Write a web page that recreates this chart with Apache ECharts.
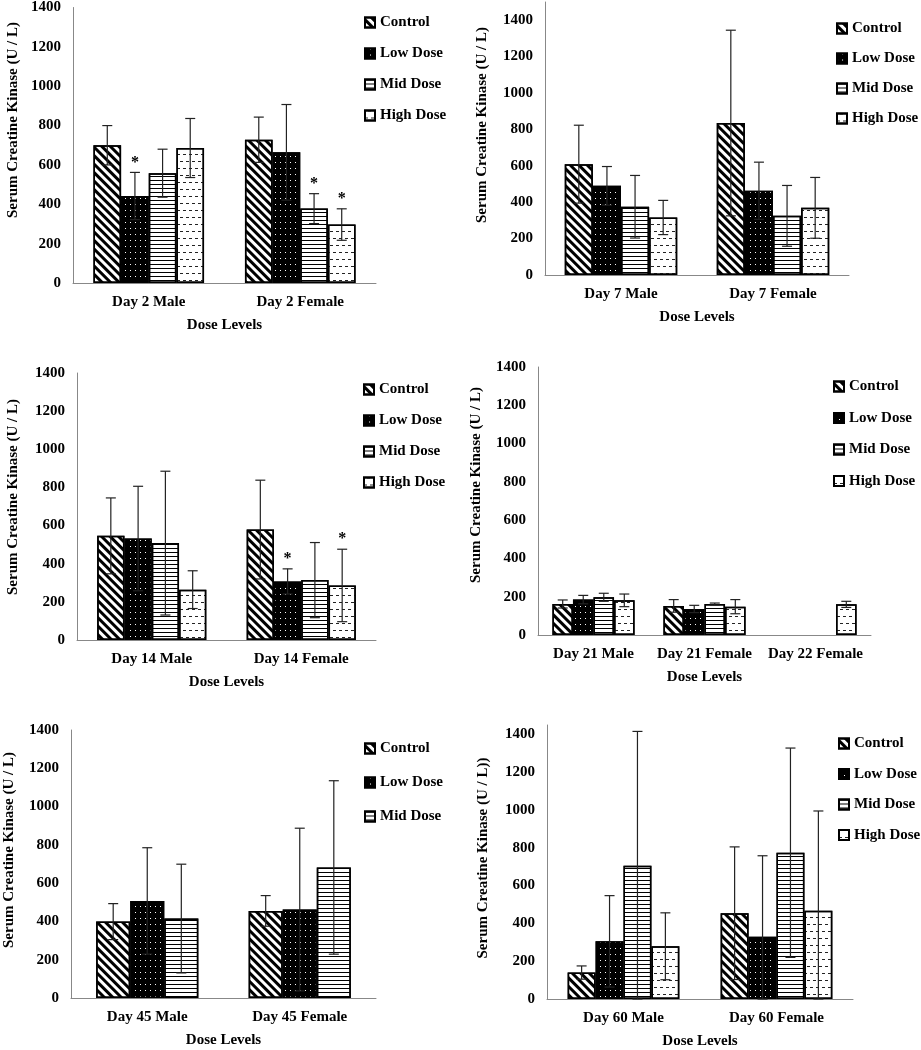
<!DOCTYPE html>
<html>
<head>
<meta charset="utf-8">
<script src="https://cdn.jsdelivr.net/npm/echarts@6/dist/echarts.min.js"></script>
<style>
  html, body { margin: 0; padding: 0; background: #fff; }
  #chart { width: 921px; height: 1050px; }
</style>
</head>
<body>
<div id="chart"></div>
<script>
const doseNames = ['Control', 'Low Dose', 'Mid Dose', 'High Dose'];

// values: one row per dose group, one column per category
const day2Cats = ['Day 2 Male', 'Day 2 Female'];
const day2Mean = [[700, 728], [442, 664], [558, 378], [686, 297]];
const day2Sd = [[100, 115], [120, 243], [122, 76], [150, 80]];
const day2Star = [[0, 0], [1, 0], [0, 1], [0, 1]];

const day7Cats = ['Day 7 Male', 'Day 7 Female'];
const day7Mean = [[609, 835], [490, 463], [375, 325], [316, 369]];
const day7Sd = [[214, 510], [106, 157], [172, 167], [94, 167]];

const day14Cats = ['Day 14 Male', 'Day 14 Female'];
const day14Mean = [[546, 579], [532, 307], [508, 314], [264, 286]];
const day14Sd = [[199, 259], [274, 66], [377, 197], [99, 190]];
const day14Star = [[0, 0], [0, 1], [0, 0], [0, 1]];

const day21Cats = ['Day 21 Male', 'Day 21 Female', 'Day 22 Female'];
const day21Mean = [[162, 152, null], [185, 136, null], [197, 162, null], [181, 148, 160]];
const day21Sd = [[21, 33, null], [22, 19, null], [21, 5, null], [33, 37, 16]];

const day45Cats = ['Day 45 Male', 'Day 45 Female'];
const day45Mean = [[399, 455], [507, 462], [415, 682]];
const day45Sd = [[94, 80], [278, 425], [284, 453]];

const day60Cats = ['Day 60 Male', 'Day 60 Female'];
const day60Mean = [[140, 454], [305, 330], [705, 774], [279, 467]];
const day60Sd = [[35, 351], [242, 428], [711, 554], [177, 528]];

const yTicks = { min: 0, interval: 200 };

const FONT = 'Liberation Serif';

const fills = ['#fff', '#000', '#fff', '#fff'];
const decals = [
  { symbol: 'rect', dashArrayX: [1, 0], dashArrayY: [2.6, 2.6], rotation: Math.PI / 4, color: '#000' },
  { symbol: 'rect', dashArrayX: [[1, 4]], dashArrayY: [1, 4.5], color: '#fff' },
  { symbol: 'rect', dashArrayX: [1, 0], dashArrayY: [1, 2.6], color: '#000' },
  { symbol: 'rect', dashArrayX: [[3, 3], [0, 3, 3, 0]], dashArrayY: [1, 6], color: '#222' }
];

const panels = [
  { cats: day2Cats, mean: day2Mean, sd: day2Sd, star: day2Star, max: 1400, gap: 0.27,
    grid: { left: 73, top: 5, width: 303, height: 278 },
    legend: { left: 359, top: 10, gap: 16 },
    yName: 'Serum Creatine Kinase (U / L)', nameX: 13, nameY: 120 },
  { cats: day7Cats, mean: day7Mean, sd: day7Sd, max: 1500, gap: 0.26,
    grid: { left: 545, top: 2, width: 304, height: 273 },
    legend: { left: 831, top: 16, gap: 15 },
    yName: 'Serum Creatine Kinase (U / L)', nameX: 482, nameY: 125 },
  { cats: day14Cats, mean: day14Mean, sd: day14Sd, star: day14Star, max: 1400, gap: 0.27,
    grid: { left: 77, top: 373, width: 299, height: 267 },
    legend: { left: 358, top: 377, gap: 16 },
    yName: 'Serum Creatine Kinase (U / L)', nameX: 13, nameY: 497 },
  { cats: day21Cats, mean: day21Mean, sd: day21Sd, max: 1400, gap: 0.26,
    grid: { left: 538, top: 367, width: 333, height: 268 },
    legend: { left: 828, top: 374, gap: 16.5 },
    yName: 'Serum Creatine Kinase (U / L)', nameX: 476, nameY: 485 },
  { cats: day45Cats, mean: day45Mean, sd: day45Sd, max: 1400, gap: 0.33,
    grid: { left: 71, top: 730, width: 305, height: 268 },
    legend: { left: 359, top: 736, gap: 19 },
    yName: 'Serum Creatine Kinase (U / L)', nameX: 9, nameY: 850 },
  { cats: day60Cats, mean: day60Mean, sd: day60Sd, max: 1450, gap: 0.27,
    grid: { left: 547, top: 725, width: 306, height: 276 },
    legend: { left: 833, top: 731, gap: 15.5 },
    yName: 'Serum Creatine Kinase (U / L))', nameX: 483, nameY: 858 }
];

const grid = [], xAxis = [], yAxis = [], legend = [], series = [], graphic = [];

panels.forEach((p, pi) => {
  const n = p.mean.length;
  grid.push(p.grid);
  xAxis.push({
    type: 'category', gridIndex: pi, data: p.cats,
    name: 'Dose Levels', nameLocation: 'middle', nameGap: 35,
    nameTextStyle: { fontFamily: FONT, fontWeight: 'bold', fontSize: 15, color: '#000' },
    axisLine: { lineStyle: { color: '#888', width: 1 } },
    axisTick: { show: false },
    axisLabel: { fontFamily: FONT, fontWeight: 'bold', fontSize: 15, color: '#000', margin: 12, interval: 0 }
  });
  yAxis.push({
    type: 'value', gridIndex: pi, min: yTicks.min, max: p.max, interval: yTicks.interval,
    axisLine: { show: true, lineStyle: { color: '#888', width: 1 } },
    axisTick: { show: false },
    splitLine: { show: false },
    axisLabel: { fontFamily: FONT, fontWeight: 'bold', fontSize: 15, color: '#000', margin: 12,
      showMaxLabel: p.max === 1400, formatter: v => String(v) }
  });
  legend.push({
    orient: 'vertical', left: p.legend.left, top: p.legend.top, itemGap: p.legend.gap,
    itemWidth: 10, itemHeight: 10, icon: 'rect', selectedMode: false,
    data: doseNames.slice(0, n),
    textStyle: { fontFamily: FONT, fontWeight: 'bold', fontSize: 15, color: '#000', lineHeight: 15 }
  });
  graphic.push({
    type: 'text', x: p.nameX, y: p.nameY, rotation: Math.PI / 2,
    style: { text: p.yName, font: 'bold 15px "Liberation Serif"', fill: '#000', align: 'center', verticalAlign: 'middle' }
  });

  p.mean.forEach((vals, si) => {
    series.push({
      type: 'bar', name: doseNames[si], xAxisIndex: pi, yAxisIndex: pi,
      data: vals, barGap: 0, barCategoryGap: (p.gap * 100) + '%',
      itemStyle: { color: fills[si], borderColor: '#000', borderWidth: 1.5, decal: decals[si] },
      emphasis: { disabled: true }
    });
    const errData = [];
    vals.forEach((v, ci) => {
      if (v == null) return;
      errData.push([ci, v, p.sd[si][ci], p.star ? p.star[si][ci] : 0]);
    });
    series.push({
      type: 'custom', name: doseNames[si] + ' SD', xAxisIndex: pi, yAxisIndex: pi,
      z: 10, silent: true, data: errData,
      renderItem(params, api) {
        const ci = api.value(0), m = api.value(1), sd = api.value(2), star = api.value(3);
        const band = api.size([1, 0])[0];
        const groupW = band * (1 - p.gap);
        const barW = groupW / n;
        const cx = api.coord([ci, 0])[0] - groupW / 2 + (si + 0.5) * barW;
        const yTop = api.coord([ci, m + sd])[1];
        const yBot = api.coord([ci, Math.max(0, m - sd)])[1];
        const cap = 5;
        const st = { stroke: '#222', lineWidth: 1.2 };
        const children = [
          { type: 'line', shape: { x1: cx, y1: yTop, x2: cx, y2: yBot }, style: st },
          { type: 'line', shape: { x1: cx - cap, y1: yTop, x2: cx + cap, y2: yTop }, style: st },
          { type: 'line', shape: { x1: cx - cap, y1: yBot, x2: cx + cap, y2: yBot }, style: st }
        ];
        if (star) {
          children.push({ type: 'text', x: cx, y: yTop - 2,
            style: { text: '*', font: 'bold 16px "Liberation Serif"', fill: '#000', align: 'center', verticalAlign: 'bottom' } });
        }
        return { type: 'group', children };
      }
    });
  });
});

const chart = echarts.init(document.getElementById('chart'));
chart.setOption({ backgroundColor: '#fff', animation: false, grid, xAxis, yAxis, legend, series, graphic });
window.addEventListener('resize', () => chart.resize());
</script>
</body>
</html>
